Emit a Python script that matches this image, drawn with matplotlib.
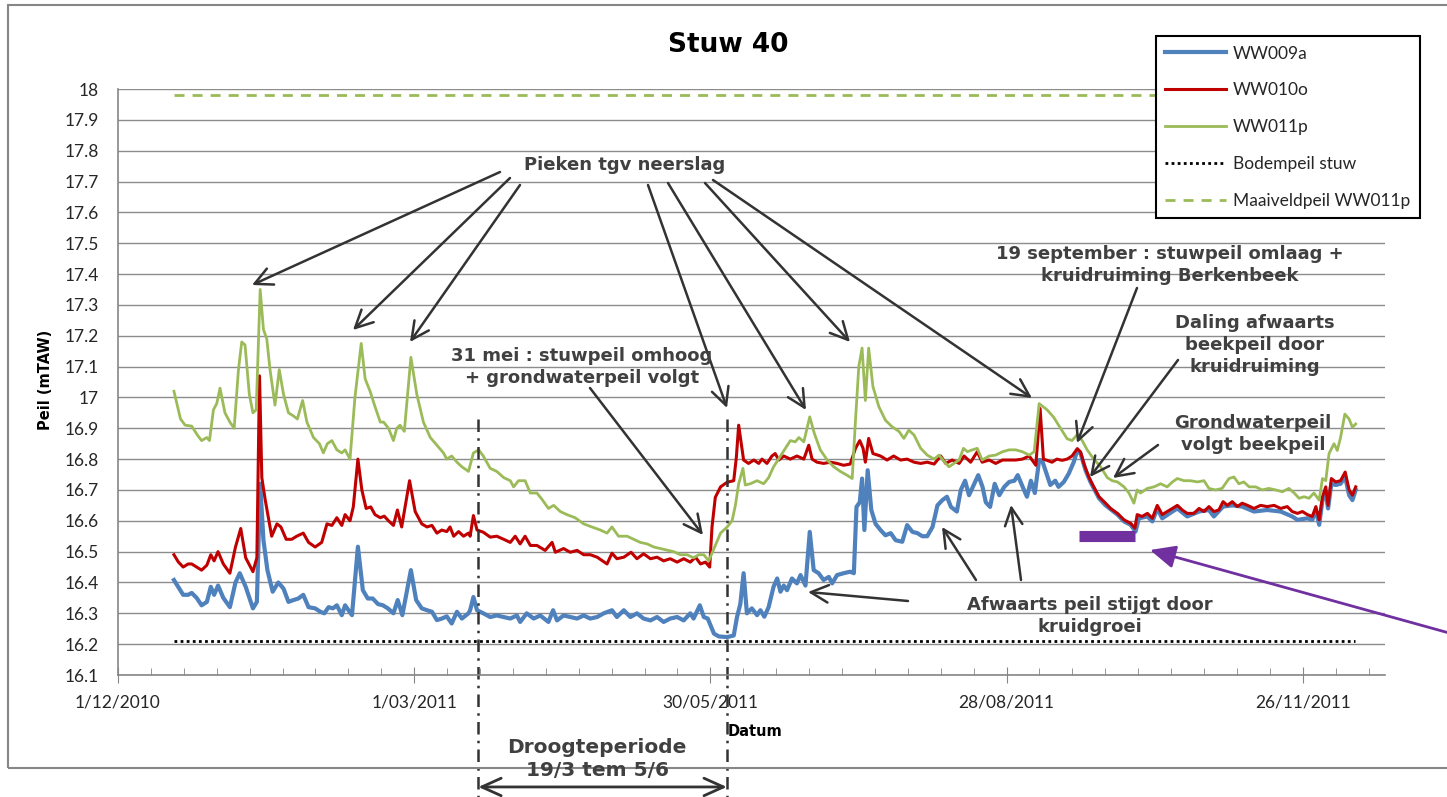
import pandas as pd
import matplotlib
matplotlib.use('Agg')
import matplotlib.pyplot as plt
from matplotlib.lines import Line2D
from matplotlib.patches import Rectangle

OUT_PATH = 'out.png'
W, H = 1447, 797
START = pd.Timestamp('2010-12-01')

# days since 1/12/2010 and peil (mTAW)
ww009a_days = [17, 18.3, 19.8, 21.3, 22.4, 23.9, 25.4, 27, 28.2, 29.2, 30.4, 32, 34, 35.7, 37, 38.8, 41, 42.2, 43.2, 44.2,
               45.4, 47, 48.7, 50.3, 51.8, 53.3, 54.8, 56.3, 57.9, 59.9, 61.5, 62.7, 64, 65.3, 66.5, 68, 69, 71.1, 72.9,
               74.4, 75.9, 77.4, 79, 80.5, 82, 83.7, 85, 86.4, 89, 90.6, 92.3, 93.9, 95.4, 96.9, 98.4, 99.9, 101.4, 103,
               104.5, 106.5, 107, 108, 109.1, 111, 113.1, 115.1, 117.2, 119.2, 121.2, 122.2, 124.2, 126.3, 128.3, 130.8,
               132.2, 133.4, 135.4, 137.4, 139.5, 141.5, 143.5, 145.6, 147.6, 150.1, 151.6, 153.7, 155.7, 157.7, 159.7,
               161.8, 163.8, 165.8, 167.8, 169.9, 171.9, 173.9, 174.9, 176.8, 178, 179.2, 181.1, 182.6, 185.1, 187.1,
               188.1, 189.1, 190.1, 191.1, 192.6, 194.2, 195.2, 196.4, 197.7, 199.2, 200.3, 201.3, 202.3, 203.3, 204.8,
               206.3, 207.4, 208.9, 210.2, 211.4, 212.9, 214.4, 216, 217, 218.5, 220.5, 222.5, 223.6, 224.4, 225.4,
               226.1, 226.8, 227.8, 228.9, 230.2, 231.7, 233.2, 234.8, 236.3, 238.3, 239.8, 241.4, 242.9, 244.4, 245.9,
               247.5, 249, 250.5, 251.9, 253.1, 254.9, 256.1, 257.4, 258.6, 260.2, 261.4, 262.7, 263.7, 265, 266.4,
               267.8, 269.3, 270.8, 272.4, 273.4, 274.9, 276.2, 277.4, 278.6, 279.9, 280.8, 281.8, 283.3, 284.8, 285.8,
               287.4, 288.9, 290.4, 291.5, 292.5, 294, 295.5, 298.1, 300.1, 303.7, 305.7, 307.7, 309.2, 310.2, 312.8,
               314.3, 315.8, 317.3, 320.4, 321.9, 324.9, 328.5, 331.5, 333, 335.8, 338.6, 341.6, 345.2, 349.2, 353.3,
               356.8, 358.4, 361.4, 362.9, 364, 365, 366, 367, 367.7, 368.7, 370, 371.5, 372.9, 374.1, 375.1, 376.1]
ww009a_peil = [16.408, 16.386, 16.36, 16.36, 16.366, 16.35, 16.326, 16.337, 16.386, 16.36, 16.39, 16.35, 16.32, 16.40,
               16.43, 16.386, 16.316, 16.337, 16.72, 16.537, 16.44, 16.37, 16.40, 16.38, 16.337, 16.343, 16.348, 16.36,
               16.32, 16.316, 16.305, 16.30, 16.32, 16.316, 16.326, 16.294, 16.326, 16.294, 16.516, 16.375, 16.348,
               16.348, 16.33, 16.326, 16.316, 16.30, 16.343, 16.294, 16.44, 16.343, 16.316, 16.31, 16.305, 16.278,
               16.283, 16.29, 16.267, 16.305, 16.283, 16.30, 16.31, 16.353, 16.31, 16.30, 16.288, 16.293, 16.288,
               16.283, 16.293, 16.272, 16.30, 16.283, 16.293, 16.272, 16.31, 16.277, 16.293, 16.288, 16.283, 16.293,
               16.283, 16.288, 16.30, 16.31, 16.288, 16.31, 16.288, 16.30, 16.283, 16.277, 16.288, 16.272, 16.283,
               16.288, 16.277, 16.30, 16.283, 16.326, 16.288, 16.283, 16.234, 16.225, 16.223, 16.228, 16.288, 16.33,
               16.43, 16.30, 16.316, 16.294, 16.31, 16.289, 16.32, 16.386, 16.413, 16.37, 16.39, 16.375, 16.413,
               16.397, 16.424, 16.39, 16.564, 16.44, 16.43, 16.408, 16.418, 16.397, 16.424, 16.43, 16.435, 16.43,
               16.645, 16.66, 16.737, 16.57, 16.764, 16.635, 16.59, 16.57, 16.553, 16.56, 16.537, 16.532, 16.586,
               16.564, 16.56, 16.55, 16.55, 16.58, 16.65, 16.667, 16.678, 16.645, 16.63, 16.70, 16.73, 16.683, 16.72,
               16.748, 16.71, 16.66, 16.645, 16.72, 16.683, 16.71, 16.726, 16.73, 16.748, 16.71, 16.678, 16.73, 16.69,
               16.797, 16.796, 16.764, 16.716, 16.73, 16.71, 16.726, 16.753, 16.79, 16.828, 16.818, 16.764, 16.726,
               16.673, 16.65, 16.62, 16.598, 16.587, 16.565, 16.608, 16.614, 16.598, 16.64, 16.608, 16.63, 16.64,
               16.614, 16.63, 16.635, 16.614, 16.646, 16.65, 16.646, 16.63, 16.635, 16.63, 16.614, 16.603, 16.608,
               16.603, 16.635, 16.587, 16.667, 16.69, 16.64, 16.72, 16.716, 16.72, 16.742, 16.683, 16.667, 16.70]

ww010o_days = [17, 18.3, 19.8, 21.3, 22.4, 23.9, 25.4, 27, 28.2, 29.2, 30.4, 32, 34, 35.7, 37.3, 38.8, 41, 42.2, 43, 43.7,
               44.7, 46.7, 48.3, 49.5, 51.1, 52.8, 54.3, 56.3, 57.9, 59.9, 61.9, 63.5, 65, 66.5, 68, 69, 70.5, 71.5,
               72.9, 74.1, 75.4, 76.8, 78.1, 79.7, 80.9, 82.2, 83.7, 84.9, 86.2, 88.6, 90.3, 92.3, 93.9, 95.4, 96.9,
               98.4, 99.9, 100.9, 102, 103.5, 105, 106.5, 107, 108, 109.1, 111, 113.1, 115.1, 117.2, 119.2, 120.7,
               122.2, 123.7, 125.3, 127.3, 129.8, 131.9, 132.9, 135.4, 137.4, 139.5, 141.5, 143.5, 145.6, 148.6,
               150.1, 151.6, 153.7, 155.9, 157.7, 159.7, 161.8, 163.8, 165.8, 167.8, 169.9, 171.9, 173.9, 175.5, 177,
               178.5, 179.8, 180.5, 181.5, 183.1, 185.1, 187.1, 187.9, 188.6, 190.1, 191.6, 193.2, 194.7, 195.7,
               197.2, 198.7, 199.7, 200.8, 202.3, 204.3, 206.3, 208.4, 209.9, 210.9, 212.4, 214.4, 216.5, 218.5,
               220.5, 222.5, 224.1, 225.4, 226.4, 227.1, 228.1, 229.4, 231.7, 233.7, 235.7, 237.8, 239.8, 241.9,
               243.9, 245.9, 248, 250, 251.5, 253.5, 255.6, 257.1, 259.1, 261.1, 262.6, 264.7, 266.7, 268.8, 270.8,
               272.8, 274.8, 276.9, 278.9, 280.2, 281.2, 282.3, 283.8, 285.3, 286.9, 288.4, 289.9, 291.5, 292.5,
               293.5, 295, 296.5, 298.1, 300.1, 301.6, 303.7, 305.7, 307.7, 309, 309.7, 311.2, 312.8, 314.3, 315.8,
               317.3, 318.8, 320.4, 321.9, 323.4, 324.9, 326.9, 328.5, 330, 331.5, 333, 334.5, 335.8, 337.1, 338.6,
               340.1, 341.6, 343.2, 345.2, 347.2, 349.2, 351.3, 353.3, 355.3, 356.8, 358.4, 359.9, 361.4, 362.9, 364,
               365, 366, 367, 367.7, 368.7, 370, 371.5, 372.9, 374.1, 375.1, 376.1]
ww010o_peil = [16.49, 16.467, 16.45, 16.46, 16.46, 16.45, 16.44, 16.456, 16.49, 16.47, 16.50, 16.46, 16.43, 16.515,
               16.575, 16.48, 16.435, 16.48, 17.07, 16.74, 16.67, 16.55, 16.59, 16.58, 16.54, 16.54, 16.55, 16.56,
               16.53, 16.515, 16.53, 16.59, 16.585, 16.61, 16.585, 16.62, 16.60, 16.645, 16.80, 16.70, 16.64, 16.645,
               16.62, 16.61, 16.615, 16.60, 16.585, 16.635, 16.58, 16.73, 16.63, 16.59, 16.58, 16.585, 16.56, 16.57,
               16.565, 16.58, 16.55, 16.565, 16.55, 16.56, 16.55, 16.617, 16.57, 16.563, 16.547, 16.55, 16.54, 16.53,
               16.55, 16.525, 16.55, 16.52, 16.52, 16.504, 16.53, 16.498, 16.51, 16.498, 16.504, 16.49, 16.49, 16.482,
               16.46, 16.495, 16.477, 16.482, 16.498, 16.477, 16.493, 16.477, 16.482, 16.47, 16.477, 16.466, 16.477,
               16.466, 16.482, 16.46, 16.466, 16.45, 16.58, 16.676, 16.71, 16.725, 16.73, 16.806, 16.91, 16.797,
               16.786, 16.797, 16.786, 16.80, 16.786, 16.81, 16.818, 16.797, 16.81, 16.80, 16.81, 16.80, 16.845,
               16.80, 16.79, 16.786, 16.79, 16.786, 16.78, 16.784, 16.835, 16.86, 16.835, 16.79, 16.867, 16.818,
               16.81, 16.797, 16.81, 16.797, 16.80, 16.79, 16.786, 16.79, 16.784, 16.81, 16.786, 16.797, 16.786,
               16.81, 16.79, 16.824, 16.79, 16.797, 16.786, 16.797, 16.797, 16.797, 16.80, 16.81, 16.78, 16.964,
               16.80, 16.796, 16.79, 16.80, 16.796, 16.80, 16.81, 16.834, 16.823, 16.785, 16.742, 16.71, 16.678,
               16.657, 16.64, 16.624, 16.603, 16.592, 16.576, 16.62, 16.614, 16.624, 16.608, 16.65, 16.62, 16.63,
               16.64, 16.65, 16.635, 16.624, 16.624, 16.64, 16.63, 16.646, 16.63, 16.635, 16.662, 16.65, 16.662,
               16.646, 16.657, 16.65, 16.64, 16.65, 16.646, 16.65, 16.64, 16.646, 16.63, 16.624, 16.63, 16.62, 16.614,
               16.646, 16.603, 16.678, 16.71, 16.65, 16.737, 16.726, 16.73, 16.758, 16.70, 16.683, 16.71]

ww011p_days = [17, 19, 20.4, 22.4, 24, 25.4, 27, 27.8, 29, 30, 31, 32.5, 34, 35.3, 36.6, 37.6, 38.6, 39.9, 41, 42, 43.2,
               44.2, 45.2, 46.2, 47.7, 49, 50.3, 51.8, 53.3, 54.5, 56.1, 57.4, 59.4, 61.2, 62.4, 63.6, 65, 66.5, 68,
               69, 70.5, 72, 73.9, 75.1, 76.6, 78.1, 79.7, 80.7, 82.2, 83.7, 84.7, 85.7, 87, 89, 90.8, 92.8, 94.9,
               96.9, 98.9, 99.9, 101.4, 103, 104.5, 106.5, 108, 109.6, 111, 113.1, 115.1, 117.2, 119.2, 120.2, 121.7,
               123.7, 125.3, 127.3, 128.8, 130.8, 132.4, 134.4, 136.4, 138.9, 141.5, 144, 146.6, 148.6, 150.1, 152.1,
               154.7, 156.7, 158.7, 160.8, 162.8, 164.8, 166.8, 168.8, 170.9, 172.9, 174.9, 176.5, 178, 179.5, 181.1,
               183.1, 185.1, 186.6, 187.6, 188.6, 189.9, 190.6, 192.1, 194.2, 196.2, 197.7, 199.2, 201.3, 202.8,
               204.3, 205.8, 206.9, 208.4, 210.2, 211.6, 213.4, 215.5, 217.5, 219.5, 221.5, 223.1, 224.1, 225.1,
               226.1, 227.1, 228.1, 229.4, 231.2, 233.2, 235.2, 237.3, 238.8, 240.3, 241.9, 243.9, 245.9, 248, 249.5,
               251.2, 252.5, 254, 255.6, 256.9, 258.1, 259.6, 261.1, 262.6, 264.7, 266.7, 268.8, 270.8, 272.8, 274.8,
               276.9, 278.4, 279.9, 282.3, 284.3, 286.4, 288.4, 289.9, 291.5, 293, 294.5, 296.5, 298.6, 300.6, 302.1,
               303.7, 305.7, 307.2, 308.7, 309.7, 310.7, 312.8, 314.8, 316.8, 318.8, 320.4, 321.9, 323.9, 325.9, 328,
               330, 331.5, 333.5, 335.5, 337.6, 339.1, 340.6, 342.1, 343.7, 345.7, 347.7, 349.7, 351.8, 353.8, 355.8,
               357.4, 358.9, 360.4, 361.9, 363.4, 365, 366, 367, 368, 369.5, 370.5, 371.5, 372.8, 374.1, 375.1, 376.1]
ww011p_peil = [17.02, 16.93, 16.91, 16.907, 16.88, 16.86, 16.87, 16.86, 16.96, 16.98, 17.03, 16.95, 16.92, 16.90, 17.09,
               17.18, 17.17, 17.01, 16.95, 16.96, 17.35, 17.22, 17.19, 17.09, 16.975, 17.09, 17.01, 16.95, 16.94, 16.93,
               16.99, 16.92, 16.87, 16.85, 16.82, 16.85, 16.86, 16.83, 16.82, 16.83, 16.80, 17.00, 17.175, 17.06, 17.02,
               16.97, 16.92, 16.92, 16.90, 16.86, 16.90, 16.91, 16.89, 17.13, 17.01, 16.92, 16.87, 16.845, 16.82, 16.80,
               16.81, 16.79, 16.775, 16.76, 16.82, 16.83, 16.81, 16.77, 16.76, 16.74, 16.73, 16.71, 16.73, 16.73, 16.69,
               16.69, 16.67, 16.64, 16.65, 16.63, 16.62, 16.61, 16.59, 16.58, 16.57, 16.56, 16.58, 16.55, 16.55, 16.54,
               16.53, 16.525, 16.515, 16.51, 16.505, 16.50, 16.49, 16.49, 16.48, 16.49, 16.49, 16.47, 16.51, 16.56,
               16.58, 16.60, 16.65, 16.72, 16.77, 16.716, 16.72, 16.73, 16.72, 16.74, 16.775, 16.81, 16.835, 16.86,
               16.856, 16.87, 16.856, 16.937, 16.883, 16.83, 16.797, 16.775, 16.76, 16.748, 16.737, 16.926, 17.10,
               17.16, 16.99, 17.16, 17.035, 16.97, 16.926, 16.905, 16.89, 16.867, 16.894, 16.878, 16.835, 16.813,
               16.80, 16.813, 16.79, 16.775, 16.786, 16.797, 16.835, 16.824, 16.83, 16.835, 16.797, 16.81, 16.813,
               16.824, 16.83, 16.83, 16.824, 16.813, 16.824, 16.98, 16.96, 16.936, 16.90, 16.866, 16.86, 16.88, 16.86,
               16.83, 16.80, 16.775, 16.74, 16.73, 16.726, 16.71, 16.69, 16.657, 16.70, 16.69, 16.705, 16.71, 16.72,
               16.71, 16.726, 16.737, 16.73, 16.73, 16.726, 16.73, 16.705, 16.70, 16.705, 16.737, 16.742, 16.72,
               16.726, 16.71, 16.71, 16.70, 16.705, 16.70, 16.694, 16.705, 16.69, 16.673, 16.678, 16.673, 16.69,
               16.667, 16.737, 16.73, 16.818, 16.85, 16.828, 16.87, 16.946, 16.93, 16.903, 16.914]

bodempeil = 16.21
maaiveldpeil = 17.98
meet_days = [17, 376]

tick_days = [0, 90, 180, 270, 360]
tick_labels = ['1/12/2010', '1/03/2011', '30/05/2011', '28/08/2011', '26/11/2011']
y_ticks = [16.1 + 0.1 * i for i in range(20)]
droogte_days = [109.5, 185]
kruid_days = [292, 309]
kruid_peil = 16.55

BLUE, RED, GREEN, PURPLE = '#4F81BD', '#C00000', '#9BBB59', '#7030A0'
TXT = '#404040'
TICK_FONT = 'Lato'
NOTE_FONT = 'DejaVu Sans'
DOTTED = (0, (1, 1.2))
DASHED = (0, (3.6, 2.9))


def to_dates(days):
    return START + pd.to_timedelta(days, unit='D')


def px(x, y):
    # pixel position in the 1447x797 picture -> figure fraction
    return (x / W, 1 - y / H)


def arrow(fig, tail, tip, color='#333333', style='->,head_length=0.9,head_width=0.45', lw=1.8):
    fig.add_artist(matplotlib.patches.FancyArrowPatch(
        px(*tail), px(*tip), transform=fig.transFigure, arrowstyle=style,
        color=color, lw=lw, mutation_scale=14, shrinkA=0, shrinkB=0))


def note(fig, x, y, s, size=13):
    fig.text(*px(x, y), s, ha='center', va='center', fontsize=size, fontweight='bold',
             color=TXT, family=NOTE_FONT, linespacing=1.25)


def plot_stuw(path):
    fig = plt.figure(figsize=(W / 100, H / 100), dpi=100)
    fig.patches.append(Rectangle(px(8, 768), 1.2, (768 - 5) / H, transform=fig.transFigure,
                                 fill=False, edgecolor='#868686', lw=1.5))
    ax = fig.add_axes([118 / W, 1 - 675 / H, (1385 - 118) / W, (675 - 89) / H])

    ax.plot(to_dates(ww009a_days), ww009a_peil, color=BLUE, lw=3.0, label='WW009a')
    ax.plot(to_dates(ww010o_days), ww010o_peil, color=RED, lw=2.2, label='WW010o')
    ax.plot(to_dates(ww011p_days), ww011p_peil, color=GREEN, lw=2.0, label='WW011p')
    ax.plot(to_dates(meet_days), [bodempeil] * 2, color='black', lw=2.0, ls=DOTTED,
            label='Bodempeil stuw')
    ax.plot(to_dates(meet_days), [maaiveldpeil] * 2, color=GREEN, lw=2.0, ls=DASHED,
            label='Maaiveldpeil WW011p')

    # purple bar (peil after kruidruiming)
    ax.plot(to_dates(kruid_days), [kruid_peil] * 2, color=PURPLE, lw=8, solid_capstyle='butt')

    # droogteperiode marker lines, running below the axis
    for d in droogte_days:
        ax.plot(to_dates([d, d]), [16.93, 15.70], color='#333333', lw=1.8,
                ls=(0, (5, 2.5, 1, 2.5)), clip_on=False)
    ax.annotate('', xy=(to_dates([droogte_days[1]])[0], 15.737),
                xytext=(to_dates([droogte_days[0]])[0], 15.737),
                arrowprops=dict(arrowstyle='<->,head_length=1.0,head_width=0.45', color='#333333',
                                lw=2, shrinkA=0, shrinkB=0, mutation_scale=14),
                annotation_clip=False)

    ax.set_xlim(to_dates([0])[0], to_dates([385])[0])
    ax.set_ylim(16.1, 18.0)
    ax.set_xticks(to_dates(tick_days))
    ax.set_xticklabels(tick_labels, fontsize=12.5, family=TICK_FONT, color='#262626')
    ax.set_xticks(to_dates(list(range(0, 386, 10))), minor=True)
    ax.set_yticks(y_ticks)
    ax.set_yticklabels([f'{round(v, 1):g}' for v in y_ticks], fontsize=12.5,
                       family=TICK_FONT, color='#262626')
    ax.tick_params(axis='y', length=0, pad=14)
    ax.tick_params(axis='x', which='major', direction='inout', length=12, pad=8, color='#868686')
    ax.tick_params(axis='x', which='minor', direction='in', length=5, color='#868686')
    ax.grid(axis='y', color='#8c8c8c', lw=1)
    ax.set_axisbelow(True)
    for side in ('top', 'right'):
        ax.spines[side].set_visible(False)
    for side in ('left', 'bottom'):
        ax.spines[side].set_color('#868686')
        ax.spines[side].set_linewidth(1.2)

    fig.text(*px(728, 45), 'Stuw 40', ha='center', va='center', fontsize=19,
             fontweight='bold', family=NOTE_FONT, color='black')
    fig.text(*px(45, 380), 'Peil (mTAW)', ha='center', va='center', rotation=90,
             fontsize=10.5, fontweight='bold', family=NOTE_FONT, color='black')
    fig.text(*px(755, 731), 'Datum', ha='center', va='center', fontsize=10.5,
             fontweight='bold', family=NOTE_FONT, color='black')

    handles = [Line2D([], [], color=BLUE, lw=3.0), Line2D([], [], color=RED, lw=2.2),
               Line2D([], [], color=GREEN, lw=2.0),
               Line2D([], [], color='black', lw=2.0, ls=DOTTED),
               Line2D([], [], color=GREEN, lw=2.0, ls=DASHED)]
    leg = ax.legend(handles, ['WW009a', 'WW010o', 'WW011p', 'Bodempeil stuw', 'Maaiveldpeil WW011p'],
                    loc='upper right', bbox_to_anchor=px(1420, 36), bbox_transform=fig.transFigure,
                    borderaxespad=0, fancybox=False, edgecolor='black', framealpha=1,
                    handlelength=3.5, labelspacing=1.2, borderpad=0.55, handletextpad=0.4,
                    prop={'family': TICK_FONT, 'size': 12.5})
    leg.get_frame().set_linewidth(1.5)
    for t in leg.get_texts():
        t.set_color('#262626')

    # annotations
    note(fig, 625, 165, 'Pieken tgv neerslag')
    for tail, tip in [((500, 172), (252, 285)), ((510, 178), (353, 330)), ((520, 185), (410, 342)),
                      ((648, 185), (727, 408)), ((668, 183), (806, 410)), ((705, 183), (850, 342)),
                      ((713, 180), (1032, 398))]:
        arrow(fig, tail, tip)
    note(fig, 582, 367, '31 mei : stuwpeil omhoog\n+ grondwaterpeil volgt')
    arrow(fig, (590, 388), (703, 535))
    note(fig, 1170, 265, '19 september : stuwpeil omlaag +\nkruidruiming Berkenbeek')
    arrow(fig, (1137, 288), (1077, 443))
    note(fig, 1255, 345, 'Daling afwaarts\nbeekpeil door\nkruidruiming')
    arrow(fig, (1178, 360), (1090, 477))
    note(fig, 1253, 434, 'Grondwaterpeil\nvolgt beekpeil')
    arrow(fig, (1158, 445), (1113, 478))
    note(fig, 1090, 616, 'Afwaarts peil stijgt door\nkruidgroei')
    arrow(fig, (908, 601), (808, 592))
    arrow(fig, (976, 580), (942, 527))
    arrow(fig, (1021, 580), (1011, 505))
    arrow(fig, (1460, 636), (1150, 550), color=PURPLE,
          style='-|>,head_length=1.1,head_width=0.5', lw=2)
    note(fig, 597, 759, 'Droogteperiode\n19/3 tem 5/6', size=14.5)

    fig.savefig(path, dpi=100)
    plt.close(fig)
    print(f'chart written to {path}')


def main():
    plot_stuw(OUT_PATH)


if __name__ == '__main__':
    main()
